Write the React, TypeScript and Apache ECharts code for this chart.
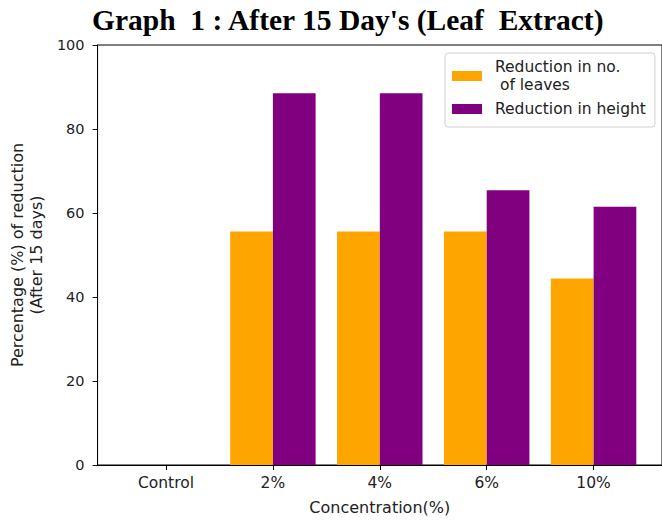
import React, { useEffect, useRef } from "react";
import * as echarts from "echarts";

const categories = ["Control", "2%", "4%", "6%", "10%"];
const leavesReduction = [0, 55.6, 55.6, 55.6, 44.4];
const heightReduction = [0, 88.5, 88.5, 65.4, 61.5];
const yTicks = [0, 20, 40, 60, 80, 100];

const FONT = "DejaVu Sans";

export default function App() {
  const ref = useRef<HTMLDivElement>(null);
  useEffect(() => {
    if (!ref.current) return;
    const chart = echarts.init(ref.current, null, { renderer: "svg" });
    const positions = categories.map((_, i) => i);
    chart.setOption({
      animation: false,
      backgroundColor: "#fff",
      title: {
        text: "Graph  1 : After 15 Day's (Leaf  Extract)",
        left: 92,
        top: 5,
        padding: 0,
        textStyle: {
          fontFamily: "Liberation Serif",
          fontWeight: "bold",
          fontSize: 29.5,
          color: "#000",
        },
      },
      legend: {
        orient: "vertical",
        left: 445,
        top: 53,
        padding: [5, 9, 9, 7],
        itemWidth: 30,
        itemHeight: 10,
        itemGap: 6,
        borderColor: "#d0d0d0",
        borderWidth: 1,
        borderRadius: 3,
        backgroundColor: "rgba(255,255,255,0.8)",
        icon: "rect",
        textStyle: {
          fontFamily: FONT,
          fontSize: 15.5,
          color: "#222",
          lineHeight: 18,
          padding: [0, 0, 0, 8],
        },
        data: ["Reduction in no.\n of leaves", "Reduction in height"],
      },
      grid: {
        left: 97,
        right: -1,
        top: 45,
        bottom: 52,
        show: true,
        borderColor: "#000",
        borderWidth: 1,
        backgroundColor: "transparent",
      },
      xAxis: {
        type: "value",
        min: -0.64,
        max: 4.64,
        splitLine: { show: false },
        axisLine: { show: true, onZero: false, lineStyle: { color: "#000", width: 1 } },
        axisTick: {
          show: true,
          customValues: positions,
          length: 5,
          lineStyle: { color: "#000" },
        },
        axisLabel: {
          customValues: positions,
          formatter: (v: number) => categories[Math.round(v)] ?? "",
          fontFamily: FONT,
          fontSize: 15.5,
          color: "#222",
          margin: 10,
        },
        name: "Concentration(%)",
        nameLocation: "middle",
        nameGap: 34,
        nameTextStyle: { fontFamily: FONT, fontSize: 16, color: "#222" },
      },
      yAxis: {
        type: "value",
        min: 0,
        max: 100,
        interval: 20,
        splitLine: { show: false },
        axisLine: { show: true, onZero: false, lineStyle: { color: "#000", width: 1 } },
        axisTick: { show: true, length: 5, lineStyle: { color: "#000" } },
        axisLabel: {
          fontFamily: FONT,
          fontSize: 14.5,
          color: "#222",
          margin: 13,
          customValues: yTicks,
        },
        name: "Percentage (%) of reduction\n(After 15 days)",
        nameLocation: "middle",
        nameGap: 44,
        nameTextStyle: { fontFamily: FONT, fontSize: 16, color: "#222", lineHeight: 19 },
      },
      series: [
        {
          name: "Reduction in no.\n of leaves",
          type: "bar",
          barWidth: 42.7,
          barGap: "-100%",
          itemStyle: { color: "#FFA500" },
          data: leavesReduction.map((v, i) => [i - 0.2, v]),
        },
        {
          name: "Reduction in height",
          type: "bar",
          barWidth: 42.7,
          barGap: "-100%",
          itemStyle: { color: "#800080" },
          data: heightReduction.map((v, i) => [i + 0.2, v]),
        },
      ],
    });
    return () => chart.dispose();
  }, []);
  return (
    <div
      ref={ref}
      style={{ position: "fixed", left: 0, top: 0, width: 662, height: 520 }}
    />
  );
}
